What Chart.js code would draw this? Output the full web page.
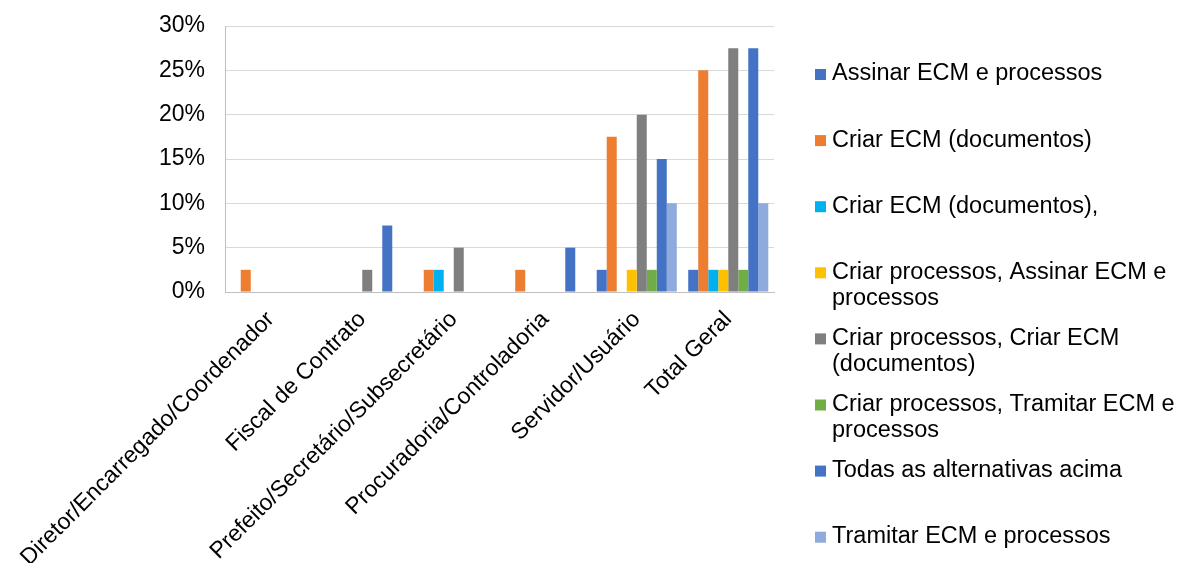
<!DOCTYPE html>
<html>
<head>
<meta charset="utf-8">
<script src="https://cdn.jsdelivr.net/npm/chart.js@4/dist/chart.umd.min.js"></script>
<style>
  html, body { margin: 0; padding: 0; background: #fff; }
  #wrap { width: 1181px; height: 563px; position: relative; }
</style>
</head>
<body>
<div id="wrap"><canvas id="chart"></canvas></div>
<script>
// categories (cargo) and share of answers per option
const cargos = [
  "Diretor/Encarregado/Coordenador",
  "Fiscal de Contrato",
  "Prefeito/Secretário/Subsecretário",
  "Procuradoria/Controladoria",
  "Servidor/Usuário",
  "Total Geral"
];

const assinarEcm      = [0, 0, 0, 0, 2.5, 2.5];
const criarEcm        = [2.5, 0, 2.5, 2.5, 17.5, 25];
const criarEcmVirgula = [0, 0, 2.5, 0, 0, 2.5];
const criarProcAssinar = [0, 0, 0, 0, 2.5, 2.5];
const criarProcCriarEcm = [0, 2.5, 5, 0, 20, 27.5];
const criarProcTramitar = [0, 0, 0, 0, 2.5, 2.5];
const todas           = [0, 7.5, 0, 5, 15, 27.5];
const tramitar        = [0, 0, 0, 0, 10, 10];

const yTicks = [0, 5, 10, 15, 20, 25, 30];

// legend text, split where the lines wrap
const legendLines = [
  ["Assinar ECM e processos"],
  ["Criar ECM (documentos)"],
  ["Criar ECM (documentos),"],
  ["Criar processos, Assinar ECM e", "processos"],
  ["Criar processos, Criar ECM", "(documentos)"],
  ["Criar processos, Tramitar ECM e", "processos"],
  ["Todas as alternativas acima"],
  ["Tramitar ECM e processos"]
];

const FONT = "'Liberation Sans', Arial, sans-serif";

const series = [
  { label: "Assinar ECM e processos", data: assinarEcm, color: "#4472C4" },
  { label: "Criar ECM (documentos)", data: criarEcm, color: "#ED7D31" },
  { label: "Criar ECM (documentos),", data: criarEcmVirgula, color: "#00B0F0" },
  { label: "Criar processos, Assinar ECM e processos", data: criarProcAssinar, color: "#FFC000" },
  { label: "Criar processos, Criar ECM (documentos)", data: criarProcCriarEcm, color: "#7F7F7F" },
  { label: "Criar processos, Tramitar ECM e processos", data: criarProcTramitar, color: "#70AD47" },
  { label: "Todas as alternativas acima", data: todas, color: "#4472C4" },
  { label: "Tramitar ECM e processos", data: tramitar, color: "#8FAADC" }
];

// legend drawn by hand so long entries can wrap onto two lines
const sideLegend = {
  id: "sideLegend",
  afterDraw(chart) {
    const ctx = chart.ctx;
    ctx.save();
    ctx.font = "23.5px " + FONT;
    ctx.textBaseline = "middle";
    ctx.textAlign = "left";
    chart.data.datasets.forEach((ds, i) => {
      const y = 74 + i * 66.1;
      ctx.fillStyle = ds.backgroundColor;
      ctx.fillRect(815, y - 5, 11, 11);
      ctx.fillStyle = "#000";
      legendLines[i].forEach((line, j) => {
        ctx.fillText(line, 832, y + j * 26);
      });
    });
    ctx.restore();
  }
};

new Chart(document.getElementById("chart"), {
  type: "bar",
  data: {
    labels: cargos,
    datasets: series.map(s => ({
      label: s.label,
      data: s.data,
      backgroundColor: s.color,
      borderWidth: 0,
      categoryPercentage: 0.875,
      barPercentage: 1.0
    }))
  },
  options: {
    responsive: true,
    maintainAspectRatio: false,
    animation: false,
    layout: { padding: { top: 26, right: 407, left: 0, bottom: 0 } },
    plugins: {
      legend: { display: false },
      tooltip: { enabled: false }
    },
    scales: {
      x: {
        grid: { display: false },
        border: { color: "#BFBFBF", width: 1 },
        ticks: {
          color: "#000",
          font: { family: FONT, size: 23 },
          maxRotation: 45,
          minRotation: 45,
          padding: 6,
          autoSkip: false
        },
        afterFit(scale) {
          scale.height = 271;
          scale.paddingLeft = 0;
          scale.paddingRight = 0;
        }
      },
      y: {
        min: 0,
        max: 30,
        afterBuildTicks(scale) {
          scale.ticks = yTicks.map(v => ({ value: v }));
        },
        grid: { color: "#D9D9D9", lineWidth: 1, drawTicks: false },
        border: { color: "#BFBFBF", width: 1 },
        ticks: {
          color: "#000",
          font: { family: FONT, size: 23 },
          padding: 20,
          callback: v => v + "%"
        },
        afterFit(scale) {
          scale.width = 225;
          scale.paddingTop = 0;
          scale.paddingBottom = 0;
        }
      }
    }
  },
  plugins: [sideLegend]
});
</script>
</body>
</html>
